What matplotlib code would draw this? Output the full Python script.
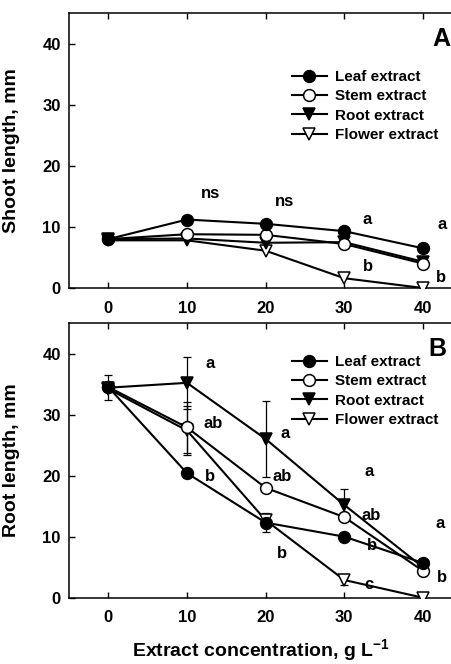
import matplotlib
matplotlib.use("Agg")
import matplotlib.pyplot as plt
import numpy as np

plt.rcParams['font.family'] = ['Liberation Sans', 'DejaVu Sans']
plt.rcParams['font.weight'] = 'bold'
plt.rcParams['mathtext.fontset'] = 'custom'
plt.rcParams['mathtext.rm'] = 'Liberation Sans:bold'
plt.rcParams['mathtext.bf'] = 'Liberation Sans:bold'
plt.rcParams['mathtext.default'] = 'bf'

conc = [0, 10, 20, 30, 40]
series_names = ["Leaf extract", "Stem extract", "Root extract", "Flower extract"]

# Panel A: shoot length (mm)
shoot_leaf = [8.0, 11.2, 10.5, 9.3, 6.5]
shoot_stem = [8.0, 8.8, 8.7, 7.2, 4.0]
shoot_root = [8.0, 8.1, 7.4, 7.5, 4.3]
shoot_flower = [7.8, 7.8, 6.1, 1.6, 0.0]

# Panel B: root length (mm)
root_leaf = [34.5, 20.4, 12.3, 10.0, 5.7]
root_stem = [34.5, 27.9, 18.0, 13.2, 4.4]
root_root = [34.4, 35.2, 26.0, 15.2, 5.0]
root_flower = [34.2, 27.4, 12.7, 2.9, 0.0]

root_leaf_err = [2.05, 0, 1.5, 0, 0]
root_stem_err = [0, 4.2, 0, 0, 0]
root_root_err = [0, 4.3, 6.3, 2.6, 0]
root_flower_err = [0, 4.0, 0.9, 0.8, 0]

# Significance letters (x, y, text)
letters_A = [(13.0, 15.4, "ns"), (22.4, 14.1, "ns"), (32.9, 11.2, "a"), (42.4, 10.4, "a"),
             (33.0, 3.6, "b"), (42.3, 1.7, "b")]
letters_B = [(13.0, 38.4, "a"), (13.3, 28.6, "ab"), (12.9, 19.8, "b"),
             (22.5, 26.9, "a"), (22.1, 19.9, "ab"), (22.1, 7.2, "b"),
             (33.2, 20.7, "a"), (33.4, 13.4, "ab"), (33.5, 8.5, "b"), (33.2, 2.1, "c"),
             (42.2, 12.1, "a"), (42.4, 3.3, "b")]

styles = [dict(marker='o', mfc='black'), dict(marker='o', mfc='white'),
          dict(marker='v', mfc='black'), dict(marker='v', mfc='white')]

fig = plt.figure(figsize=(4.52, 6.64), dpi=100)
W, H = 452, 664
axA = fig.add_axes([69 / W, 1 - 288 / H, (452 - 69) / W, (288 - 13) / H])
axB = fig.add_axes([69 / W, 1 - 597.7 / H, (452 - 69) / W, (597.7 - 323) / H])


def style_ax(ax):
    ax.set_xlim(-5, 43.7)
    ax.set_ylim(0, 45)
    ax.set_xticks(conc)
    ax.set_yticks([0, 10, 20, 30, 40])
    ax.spines['right'].set_visible(False)
    for s in ['left', 'top', 'bottom']:
        ax.spines[s].set_linewidth(1.1)
    ax.tick_params(direction='in', length=4, width=1, labelsize=12, top=True)
    ax.tick_params(axis='x', pad=9)
    ax.tick_params(axis='y', pad=6)
    for lab in ax.get_xticklabels() + ax.get_yticklabels():
        lab.set_fontweight('bold')


def draw(ax, data, errs=None):
    handles = []
    for i, (vals, st) in enumerate(zip(data, styles)):
        if errs is not None:
            e = np.array(errs[i], dtype=float)
            ax.errorbar(conc, vals, yerr=np.where(e > 0, e, np.nan), fmt='none',
                        ecolor='black', elinewidth=0.9, capsize=3, capthick=0.9, zorder=2)
        h, = ax.plot(conc, vals, color='black', lw=1.5, marker=st['marker'],
                     mfc=st['mfc'], mec='black', mew=1.1, ms=8.5, label=series_names[i],
                     zorder=3 + (3 - i) * 0.1)
        handles.append(h)
    return handles


style_ax(axA)
style_ax(axB)

hA = draw(axA, [shoot_leaf, shoot_stem, shoot_root, shoot_flower])
hB = draw(axB, [root_leaf, root_stem, root_root, root_flower],
          [root_leaf_err, root_stem_err, root_root_err, root_flower_err])

for ax, hs, top in [(axA, hA, 0.793), (axB, hB, 0.883)]:
    leg = ax.legend(hs, series_names, loc='upper left', bbox_to_anchor=(0.582, top),
                    frameon=False, fontsize=11, handlelength=2.3, handletextpad=0.55,
                    labelspacing=0.35, borderpad=0, borderaxespad=0)
    for t in leg.get_texts():
        t.set_fontweight('bold')

for x, y, t in letters_A:
    axA.text(x, y, t, fontsize=12, fontweight='bold', ha='center', va='center')
for x, y, t in letters_B:
    axB.text(x, y, t, fontsize=12, fontweight='bold', ha='center', va='center')

axA.text(42.3, 40.7, "A", fontsize=18, fontweight='bold', ha='center', va='center')
axB.text(41.9, 40.8, "B", fontsize=18, fontweight='bold', ha='center', va='center')

axA.set_ylabel("Shoot length, mm", fontsize=14, fontweight='bold')
axB.set_ylabel("Root length, mm", fontsize=14, fontweight='bold')
axA.yaxis.set_label_coords(-0.128, 0.5)
axB.yaxis.set_label_coords(-0.128, 0.5)
axB.set_xlabel(r"Extract concentration, g L$^{-1}$", fontsize=14, fontweight='bold')
axB.xaxis.label.set_va('center')
axB.xaxis.set_label_coords(0.5, -0.19)

fig.savefig("out.png", dpi=100)
